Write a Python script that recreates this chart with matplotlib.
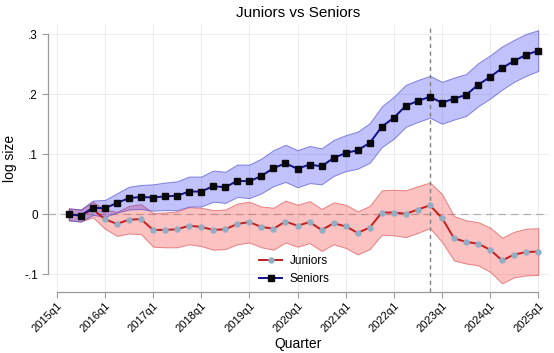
import matplotlib
matplotlib.use("Agg")
import matplotlib.pyplot as plt
import numpy as np

plt.rcParams['font.family'] = ['Liberation Sans', 'DejaVu Sans']

# quarter index: 2015q1 = 0
quarters = list(range(1, 41))  # 2015q2 .. 2025q1
tick_pos = [0, 4, 8, 12, 16, 20, 24, 28, 32, 36, 40]
tick_labels = ["2015q1", "2016q1", "2017q1", "2018q1", "2019q1", "2020q1",
               "2021q1", "2022q1", "2023q1", "2024q1", "2025q1"]
event_quarter = 31  # 2022q4

seniors = [0.000, -0.002, 0.011, 0.010, 0.019, 0.027, 0.029, 0.028, 0.030, 0.031,
           0.038, 0.038, 0.047, 0.045, 0.056, 0.055, 0.064, 0.077, 0.085, 0.076,
           0.083, 0.080, 0.094, 0.102, 0.107, 0.119, 0.146, 0.161, 0.181, 0.189,
           0.196, 0.186, 0.193, 0.199, 0.216, 0.229, 0.244, 0.256, 0.266, 0.273]
seniors_ci = [0.010, 0.010, 0.012, 0.014, 0.016, 0.019, 0.020, 0.022, 0.023, 0.024,
              0.025, 0.025, 0.026, 0.026, 0.027, 0.028, 0.029, 0.030, 0.031, 0.031,
              0.031, 0.030, 0.030, 0.030, 0.031, 0.033, 0.034, 0.035, 0.035, 0.035,
              0.035, 0.035, 0.035, 0.035, 0.036, 0.036, 0.036, 0.035, 0.035, 0.034]

juniors = [0.000, -0.002, 0.008, -0.008, -0.016, -0.009, -0.008, -0.026, -0.026, -0.025,
           -0.019, -0.021, -0.026, -0.025, -0.016, -0.013, -0.021, -0.024, -0.012, -0.019,
           -0.013, -0.026, -0.015, -0.020, -0.031, -0.022, 0.003, 0.003, 0.001, 0.008,
           0.015, -0.006, -0.040, -0.046, -0.049, -0.059, -0.077, -0.067, -0.063, -0.062]
juniors_ci = [0.010, 0.010, 0.013, 0.016, 0.020, 0.023, 0.025, 0.028, 0.029, 0.030,
              0.031, 0.032, 0.033, 0.033, 0.034, 0.034, 0.034, 0.035, 0.035, 0.035,
              0.035, 0.035, 0.035, 0.036, 0.036, 0.036, 0.037, 0.038, 0.039, 0.039,
              0.038, 0.040, 0.037, 0.036, 0.036, 0.037, 0.038, 0.038, 0.039, 0.039]

y_ticks = [-0.1, 0.0, 0.1, 0.2, 0.3]
y_tick_labels = ["-.1", "0", ".1", ".2", ".3"]

x = np.array(quarters)
s = np.array(seniors); sc = np.array(seniors_ci)
j = np.array(juniors); jc = np.array(juniors_ci)

fig = plt.figure(figsize=(5.54, 3.53), dpi=100)
ax = fig.add_axes([0.0872, 0.172, 0.9018, 0.756])

ax.set_xlim(-0.7, 40.8)
ax.set_ylim(-0.13, 0.315)

# grid
for t in tick_pos:
    ax.axvline(t, color='#ececec', lw=0.7, zorder=0)
for v in y_ticks:
    ax.axhline(v, color='#ececec', lw=0.7, zorder=0)

ax.axhline(0, color='#b0b0b0', lw=0.9, ls=(0, (6, 4)), zorder=1)

# bands
ax.fill_between(x, j - jc, j + jc, facecolor=(0.97, 0.2, 0.2, 0.3),
                edgecolor=(0.85, 0.25, 0.25, 0.6), lw=0.7, zorder=2)
ax.fill_between(x, s - sc, s + sc, facecolor=(0.2, 0.2, 0.95, 0.3),
                edgecolor=(0.25, 0.25, 0.8, 0.6), lw=0.7, zorder=2)

ax.plot(x, j, color='#c41e1e', lw=1.4, marker='o', markersize=3.6,
        markerfacecolor='#93aec4', markeredgecolor='#93aec4', zorder=4,
        label='Juniors')
ax.plot(x, s, color='#10108c', lw=1.4, marker='s', markersize=4.2,
        markerfacecolor='#0a0a0a', markeredgecolor='#0a0a0a', zorder=5,
        label='Seniors')

ax.axvline(event_quarter, color='#808080', lw=1.0, ls=(0, (3, 2.5)), zorder=3)

# axes styling
for side in ['top', 'right']:
    ax.spines[side].set_visible(False)
ax.spines['left'].set_bounds(-0.1, 0.3)
ax.spines['bottom'].set_bounds(0, 40)
ax.spines['left'].set_color('#9a9a9a')
ax.spines['bottom'].set_color('#9a9a9a')
ax.spines['left'].set_linewidth(0.9)
ax.spines['bottom'].set_linewidth(0.9)

ax.set_yticks(y_ticks)
ax.set_yticklabels(y_tick_labels, fontsize=8.5)
ax.set_xticks(tick_pos)
ax.set_xticklabels(tick_labels, fontsize=8, rotation=45, ha='right',
                   rotation_mode='anchor')
ax.tick_params(axis='both', colors='#9a9a9a', labelcolor='black', length=4, width=0.8)
ax.tick_params(axis='x', pad=2)

ax.set_xlabel('Quarter', fontsize=10, labelpad=2)
ax.set_ylabel('log size', fontsize=10, labelpad=5)
ax.set_title('Juniors vs Seniors', fontsize=11, pad=6)

leg = ax.legend(loc='center', bbox_to_anchor=(294 / 554, 1 - 270 / 353),
                bbox_transform=fig.transFigure, frameon=False, fontsize=8.5,
                handlelength=2.0, handletextpad=0.6, labelspacing=0.5)

fig.savefig('out.png', dpi=100)
